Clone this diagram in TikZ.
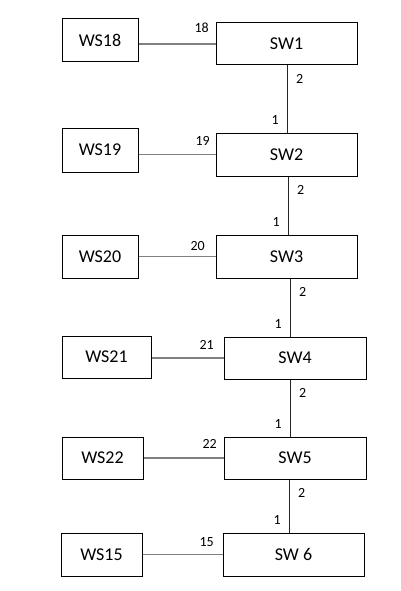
\documentclass[tikz,border=0pt]{standalone}
\usepackage{fontspec}
\setmainfont{Carlito}
\begin{document}
\begin{tikzpicture}[x = 1pt, y = -1pt,
    box/.style = {draw, line width = 1pt, inner sep = 0pt, font = \fontsize{18}{20}\selectfont},
    port/.style = {inner sep = 0pt, font = \fontsize{14}{15}\selectfont},
    wsline/.style = {line width = 1.8pt, black!50},
    swline/.style = {line width = 1pt, black!85}]
    \useasboundingbox (0,0) rectangle (401,591);
    % workstation box, switch box, port number on the switch side
    \foreach \r/\ws/\wl/\wr/\wt/\wb/\sw/\sl/\sr/\st/\sb/\px/\py/\p in {
        1/WS18/62/138/19/62/SW1/216/357/23/65/209/33/18,
        2/WS19/62/138/128/172/SW2/216/357/133/176/210/146/19,
        3/WS20/62/138/235/278/SW3/216/357/235/278/205/251/20,
        4/WS21/62/151/336/378/SW4/224/366/337/379/214/350/21,
        5/WS22/62/143/437/479/SW5/224/366/437/479/217/449/22,
        6/WS15/61/142/533/576/SW 6/223/364/533/576/214/547/15}{
        \node[box, minimum width = \wr-\wl, minimum height = \wb-\wt] (ws\r) at ({(\wl+\wr)/2}, {(\wt+\wb)/2}) {\ws};
        \node[box, minimum width = \sr-\sl, minimum height = \sb-\st] (sw\r) at ({(\sl+\sr)/2}, {(\st+\sb)/2}) {\sw};
        \draw[wsline] (ws\r.east |- sw\r.west) -- (sw\r.west);
        \node[port, anchor = south east] (p\r) at (\px, \py) {\p};
    }
    % uplinks between the switches: port 2 down, port 1 up
    \foreach \a/\b/\x in {1/2/287, 2/3/288, 3/4/290, 4/5/290, 5/6/289}{
        \coordinate (t\a) at (sw\a.south -| \x,0);
        \coordinate (b\b) at (sw\b.north -| \x,0);
        \draw[swline] (t\a) -- (b\b);
        \node[port, anchor = north west] (dn\a) at ([xshift = 9pt, yshift = -9pt]t\a) {2};
        \node[port, anchor = south east] (up\b) at ([xshift = -8pt, yshift = 8pt]b\b) {1};
    }
\end{tikzpicture}
\end{document}
